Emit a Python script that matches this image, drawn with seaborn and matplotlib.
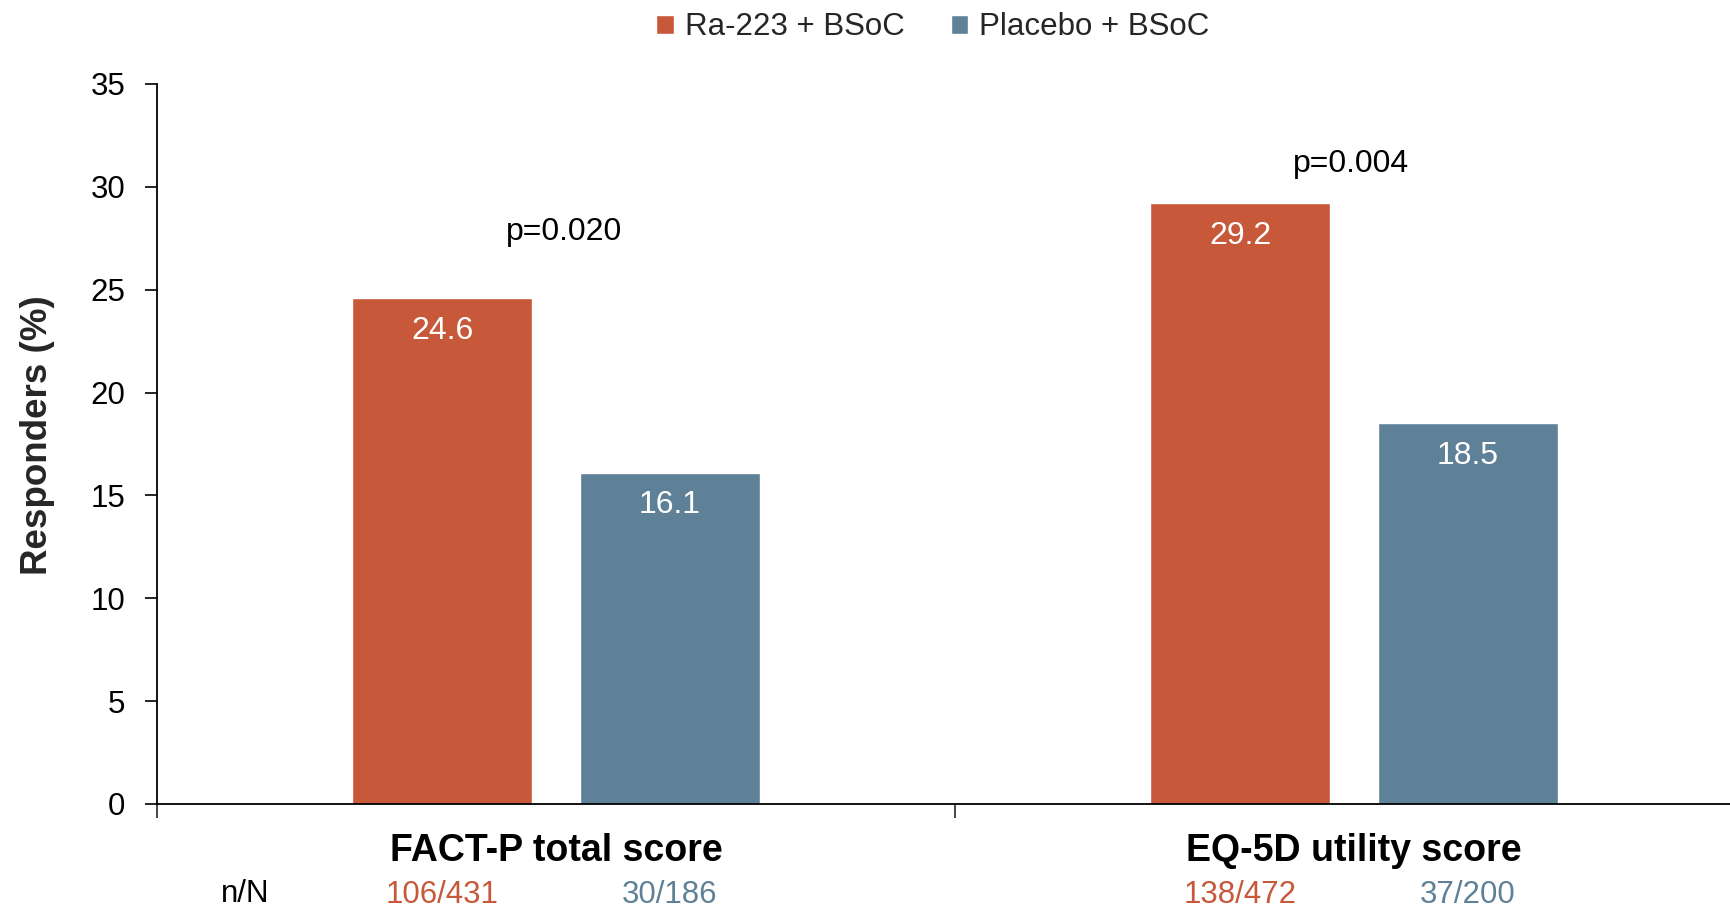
import matplotlib
matplotlib.use("Agg")
import matplotlib.pyplot as plt
import matplotlib.transforms as mtransforms
import seaborn as sns
import pandas as pd

categories = ["FACT-P total score", "EQ-5D utility score"]
groups = ["Ra-223 + BSoC", "Placebo + BSoC"]
ra_values = [24.6, 29.2]
placebo_values = [16.1, 18.5]
ra_counts = ["106/431", "138/472"]
placebo_counts = ["30/186", "37/200"]
p_values = ["p=0.020", "p=0.004"]
y_ticks = [0, 5, 10, 15, 20, 25, 30, 35]

colors = ["#C8583A", "#5E8197"]

df = pd.DataFrame({
    "category": categories * 2,
    "group": [groups[0]] * 2 + [groups[1]] * 2,
    "value": ra_values + placebo_values,
})

sns.set_theme(style="white")
plt.rcParams["font.family"] = ["Liberation Sans", "DejaVu Sans"]

fig = plt.figure(figsize=(17.31, 9.10), dpi=100)
ax = fig.add_axes([0.0907, 0.1165, 0.922, 0.7912])

sns.barplot(data=df, x="category", y="value", hue="group", order=categories,
            hue_order=groups, palette=colors, width=0.57, gap=0.21,
            saturation=1, ax=ax, errorbar=None)

ax.set_xlim(-0.5, 1.5)
ax.set_ylim(0, 35)
ax.set_yticks(y_ticks)
ax.tick_params(axis="y", labelsize=22.5, length=9, width=1.2, direction="out",
               left=True, pad=14, colors="black")
ax.set_ylabel("Responders (%)", fontsize=26.5, fontweight="bold")
ax.yaxis.set_label_coords(-0.0636, 0.5125)

# x axis: ticks at group boundaries, no labels from ticks
ax.set_xticks([-0.5, 0.5, 1.5])
ax.set_xticklabels([])
ax.tick_params(axis="x", length=10, width=1.2, direction="out", bottom=True)
ax.set_xlabel("")

for side in ["top", "right"]:
    ax.spines[side].set_visible(False)
for side in ["left", "bottom"]:
    ax.spines[side].set_color("black")
    ax.spines[side].set_linewidth(1.3)

trans = mtransforms.blended_transform_factory(ax.transData, ax.transAxes)

# bar value labels
bar_centers = []
for container, vals in zip(ax.containers, [ra_values, placebo_values]):
    centers = []
    for patch, v in zip(container.patches, vals):
        cx = patch.get_x() + patch.get_width() / 2
        centers.append(cx)
        ax.annotate(f"{v:.1f}", xy=(cx, patch.get_height()), xytext=(0, -23.5),
                    textcoords="offset points", ha="center", va="center",
                    color="white", fontsize=23)
    bar_centers.append(centers)

# p-values
p_y = [27.8, 31.1]
p_x = [0.01, -0.004]
for i, p in enumerate(p_values):
    ax.text(i + p_x[i], p_y[i], p, ha="center", va="center", fontsize=23, color="black")

# category labels
for i, cat in enumerate(categories):
    ax.annotate(cat, xy=(i, 0), xycoords=trans, xytext=(0, -33.5),
                textcoords="offset points", ha="center", va="center",
                fontsize=27, fontweight="bold", color="black", annotation_clip=False)

# n/N row
fig.text(245 / 1731, 1 - 894 / 910, "n/N", ha="center", va="center", fontsize=22.5, color="black")
for counts, centers, col in zip([ra_counts, placebo_counts], bar_centers, colors):
    for c, cx in zip(counts, centers):
        ax.annotate(c, xy=(cx, 0), xycoords=trans, xytext=(0, -65.5),
                    textcoords="offset points", ha="center", va="center",
                    fontsize=22.5, color=col, annotation_clip=False)

sns.move_legend(ax, "center", bbox_to_anchor=(0.539, 0.970), bbox_transform=fig.transFigure,
                ncol=2, frameon=False, title=None, fontsize=22.5,
                handlelength=0.55, handleheight=0.55, handletextpad=0.35,
                columnspacing=1.5, borderaxespad=0)

fig.savefig("out.png", dpi=100)
